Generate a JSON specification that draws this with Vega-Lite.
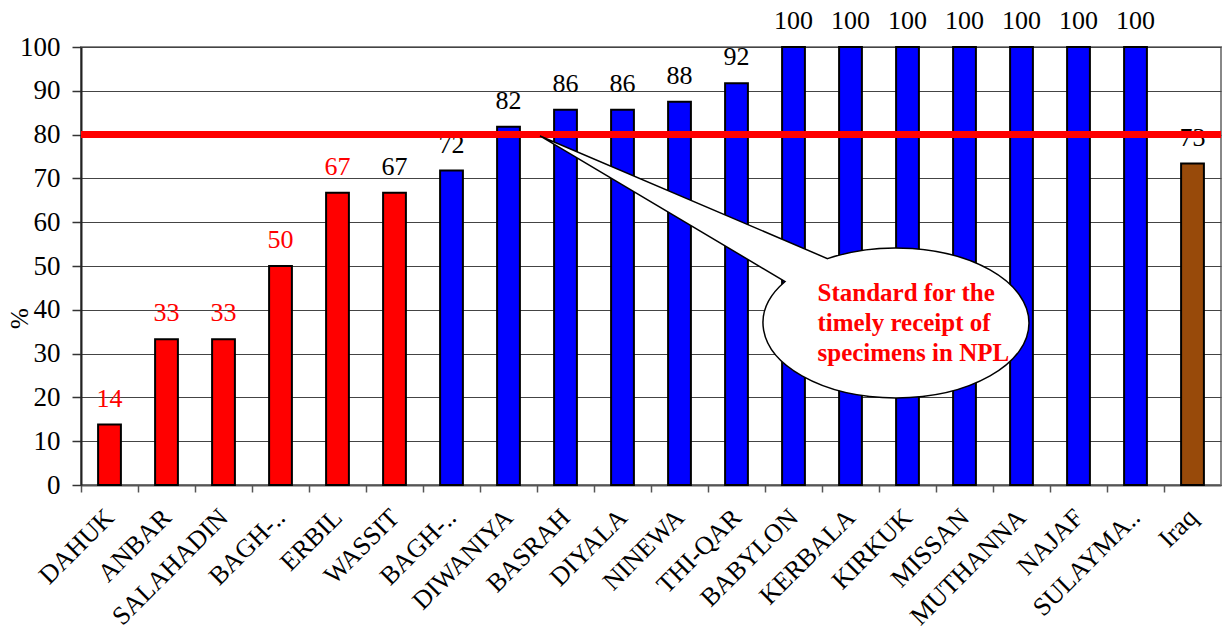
{
  "$schema": "https://vega.github.io/schema/vega-lite/v6.json",
  "autosize": {"type": "none"},
  "width": 1140,
  "height": 438,
  "padding": {"left": 81, "top": 47, "right": 4, "bottom": 155},
  "background": "white",
  "config": {
    "font": "Liberation Serif",
    "view": {"stroke": "#888888", "strokeWidth": 2}
  },
  "datasets": {
    "rates": [
      {"province": "DAHUK", "pct": 13.8},
      {"province": "ANBAR", "pct": 33.3},
      {"province": "SALAHADIN", "pct": 33.3},
      {"province": "BAGHDAD-KARKH", "pct": 50},
      {"province": "ERBIL", "pct": 66.7},
      {"province": "WASSIT", "pct": 66.7},
      {"province": "BAGHDAD-RESAFA", "pct": 71.8},
      {"province": "DIWANIYA", "pct": 81.8},
      {"province": "BASRAH", "pct": 85.7},
      {"province": "DIYALA", "pct": 85.7},
      {"province": "NINEWA", "pct": 87.5},
      {"province": "THI-QAR", "pct": 91.7},
      {"province": "BABYLON", "pct": 100},
      {"province": "KERBALA", "pct": 100},
      {"province": "KIRKUK", "pct": 100},
      {"province": "MISSAN", "pct": 100},
      {"province": "MUTHANNA", "pct": 100},
      {"province": "NAJAF", "pct": 100},
      {"province": "SULAYMANIYA", "pct": 100},
      {"province": "Iraq", "pct": 73.4}
    ],
    "standard": [{"standard": 80}],
    "note": [{"province": "KIRKUK", "pct": 37}]
  },
  "layer": [
    {
      "data": {"name": "rates"},
      "mark": {"type": "bar", "width": {"band": 0.4}, "stroke": "black", "strokeWidth": 2},
      "encoding": {
        "x": {
          "field": "province",
          "type": "nominal",
          "sort": null,
          "scale": {"paddingInner": 0, "paddingOuter": 0},
          "axis": {
            "title": null,
            "orient": "bottom",
            "labelAngle": -45,
            "labelAlign": "right",
            "labelBaseline": "middle",
            "labelFont": "Liberation Serif",
            "labelFontSize": 26,
            "labelColor": "black",
            "labelPadding": 21,
            "labelLimit": 400,
            "labelExpr": "indexof(datum.value,'BAGHDAD')==0 ? 'BAGH-..' : (datum.value=='SULAYMANIYA' ? 'SULAYMA..' : datum.value)",
            "tickOffset": -28.5,
            "labelOffset": 28.5,
            "tickSize": 7,
            "tickColor": "#555555",
            "tickWidth": 1.5,
            "domainColor": "#555555",
            "domainWidth": 2,
            "grid": false
          }
        },
        "y": {
          "field": "pct",
          "type": "quantitative",
          "scale": {"domain": [0, 100], "nice": false},
          "axis": {
            "title": "%",
            "titleFont": "Liberation Serif",
            "titleFontSize": 25,
            "titleFontWeight": "normal",
            "titleAngle": -90,
            "titleAlign": "center",
            "titleBaseline": "middle",
            "titleX": -62,
            "titleY": 271,
            "values": [0, 10, 20, 30, 40, 50, 60, 70, 80, 90, 100],
            "labelFont": "Liberation Serif",
            "labelFontSize": 27,
            "labelColor": "black",
            "labelPadding": 12,
            "tickSize": 9,
            "tickColor": "#333333",
            "tickWidth": 1.5,
            "domainColor": "#222222",
            "domainWidth": 2,
            "grid": true,
            "gridColor": "#444444",
            "gridWidth": 1.2
          }
        },
        "fill": {
          "condition": [
            {"test": "datum.province == 'Iraq'", "value": "#984A0A"},
            {"test": "indexof(['DAHUK','ANBAR','SALAHADIN','BAGHDAD-KARKH','ERBIL','WASSIT'], datum.province) >= 0", "value": "#FF0000"}
          ],
          "value": "#0000FF"
        }
      }
    },
    {
      "data": {"name": "rates"},
      "mark": {"type": "text", "baseline": "alphabetic", "dy": -18, "fontSize": 26, "font": "Liberation Serif"},
      "encoding": {
        "x": {"field": "province", "type": "nominal", "sort": null},
        "y": {"field": "pct", "type": "quantitative"},
        "text": {"field": "pct", "type": "quantitative", "format": ".0f"},
        "color": {
          "condition": {"test": "indexof(['DAHUK','ANBAR','SALAHADIN','BAGHDAD-KARKH','ERBIL'], datum.province) >= 0", "value": "#FF0000"},
          "value": "black"
        }
      }
    },
    {
      "data": {"name": "standard"},
      "mark": {"type": "rule", "color": "#FF0000", "strokeWidth": 7},
      "encoding": {"y": {"field": "standard", "type": "quantitative"}}
    },
    {
      "data": {"name": "note"},
      "mark": {
        "type": "point",
        "shape": "M -3.675 -1.87 L -0.8 -0.643 C -0.2766 -0.8202 0.3937 -0.7738 0.8254 -0.5303 C 1.3448 -0.2374 1.3448 0.2374 0.8254 0.5303 C 0.306 0.8232 -0.536 0.8232 -1.0554 0.5303 C -1.5026 0.2781 -1.5731 -0.1165 -1.2241 -0.4139 Z",
        "size": 40000,
        "filled": true,
        "fill": "white",
        "stroke": "black",
        "strokeWidth": 1.5,
        "opacity": 1,
        "fillOpacity": 1
      },
      "encoding": {
        "x": {"field": "province", "type": "nominal", "sort": null},
        "y": {"field": "pct", "type": "quantitative"}
      }
    },
    {
      "data": {"name": "note"},
      "mark": {
        "type": "text",
        "text": ["Standard for the", "timely receipt of", "specimens in NPL"],
        "align": "left",
        "baseline": "middle",
        "dx": -90,
        "dy": -30,
        "lineHeight": 30,
        "font": "Liberation Serif",
        "fontSize": 25,
        "fontWeight": "bold",
        "color": "#FF0000"
      },
      "encoding": {
        "x": {"field": "province", "type": "nominal", "sort": null},
        "y": {"field": "pct", "type": "quantitative"}
      }
    }
  ]
}
